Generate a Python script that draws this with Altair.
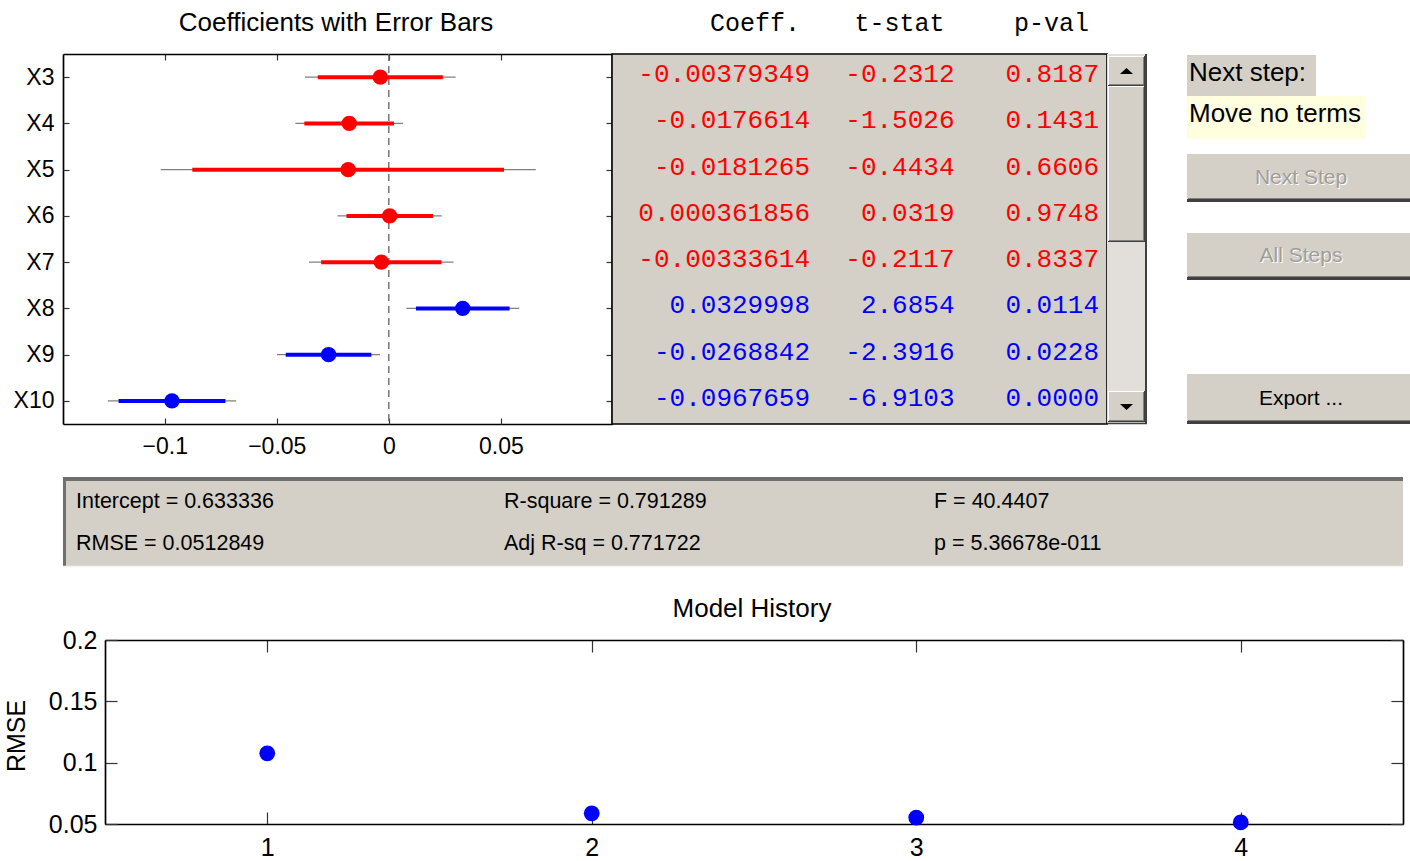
import altair as alt
import pandas as pd

# ---------------- stepwise regression state ----------------
terms = ["X3", "X4", "X5", "X6", "X7", "X8", "X9", "X10"]
coef = [-0.00379349, -0.0176614, -0.0181265, 0.000361856,
        -0.00333614, 0.0329998, -0.0268842, -0.0967659]
t_stat = [-0.2312, -1.5026, -0.4434, 0.0319, -0.2117, 2.6854, -2.3916, -6.9103]
p_val = [0.8187, 0.1431, 0.6606, 0.9748, 0.8337, 0.0114, 0.0228, 0.0000]
in_model = [False, False, False, False, False, True, True, True]

# 95% (thin) and 90% (thick) confidence intervals
ci95_lo = [-0.0374, -0.0417, -0.1018, -0.0229, -0.0356, 0.0078, -0.0499, -0.1254]
ci95_hi = [0.0298, 0.0064, 0.0656, 0.0236, 0.0289, 0.0582, -0.0039, -0.0681]
ci90_lo = [-0.0317, -0.0377, -0.0877, -0.0189, -0.0302, 0.0121, -0.0460, -0.1206]
ci90_hi = [0.0241, 0.0023, 0.0514, 0.0197, 0.0235, 0.0539, -0.0078, -0.0729]

coef_ticks = [-0.1, -0.05, 0, 0.05]
table_headers = ["Coeff.", "t-stat", "p-val"]

# model history
steps = [1, 2, 3, 4]
rmse_history = [0.1076, 0.0587, 0.0552, 0.0512849]
rmse_ticks = [0.05, 0.1, 0.15, 0.2]

summary_rows = [
    ["Intercept = 0.633336", "R-square = 0.791289", "F = 40.4407"],
    ["RMSE = 0.0512849", "Adj R-sq = 0.771722", "p = 5.36678e-011"],
]

# ---------------- layout ----------------
W, H = 1410, 861
COEF_X = [63, 612]
COEF_Y = [54, 424]
HIST_X = [105, 1403]
HIST_Y = [640, 824]
PANEL = "#d4d0c8"
SANS = "Liberation Sans, Arial, Helvetica, sans-serif"
MONO = "Liberation Mono, Courier New, monospace"

status = ["in" if m else "out" for m in in_model]
coef_df = pd.DataFrame(dict(term=terms, coef=coef, lo95=ci95_lo, hi95=ci95_hi,
                            lo90=ci90_lo, hi90=ci90_hi, status=status))

cols = ["coef", "t", "p"]
rows = []
for i, term in enumerate(terms):
    rows.append(dict(term=term, col="coef", text=f"{coef[i]:g}", status=status[i]))
    rows.append(dict(term=term, col="t", text=f"{t_stat[i]:.4f}", status=status[i]))
    rows.append(dict(term=term, col="p", text=f"{p_val[i]:.4f}", status=status[i]))
table_df = pd.DataFrame(rows)
header_df = pd.DataFrame(dict(col=cols, text=table_headers))
hist_df = pd.DataFrame(dict(step=steps, rmse=rmse_history))

ONE = alt.Data(values=[{}])

color = alt.Color("status:N", scale=alt.Scale(domain=["out", "in"], range=["#ff0000", "#0000ff"]),
                  legend=None)


def axis(orient, offset, labels=False, ticks=False, domain=False, tick_size=6, **kw):
    return alt.Axis(orient=orient, offset=offset, labels=labels, ticks=ticks,
                    tickSize=tick_size if ticks else 0, domain=domain,
                    domainColor="black", domainWidth=1.7, tickColor="#333333", tickWidth=1.2,
                    grid=False, title=None, labelFlush=False, labelOverlap=False,
                    labelColor="black", labelFont=SANS, **kw)


def box(x0, y0, x1, y1, fill, stroke=None, sw=0):
    props = dict(fill=fill)
    if stroke:
        props.update(stroke=stroke, strokeWidth=sw)
    return alt.Chart(ONE).mark_rect(**props).encode(
        x=alt.value(x0), x2=alt.value(x1), y=alt.value(y0), y2=alt.value(y1))


def hline(x0, x1, y, c, w=1):
    return alt.Chart(ONE).mark_rule(color=c, strokeWidth=w).encode(
        x=alt.value(x0), x2=alt.value(x1), y=alt.value(y))


def vline(x, y0, y1, c, w=1):
    return alt.Chart(ONE).mark_rule(color=c, strokeWidth=w).encode(
        x=alt.value(x), y=alt.value(y0), y2=alt.value(y1))


def raised(x0, y0, x1, y1):
    return [box(x0, y0, x1, y1, PANEL),
            hline(x0, x1, y0 + 0.5, "white"), vline(x0 + 0.5, y0, y1, "white"),
            hline(x0, x1, y1 - 0.5, "#404040"), vline(x1 - 0.5, y0, y1, "#404040"),
            hline(x0 + 1, x1 - 1, y1 - 1.5, "#808080"), vline(x1 - 1.5, y0 + 1, y1 - 1, "#808080")]


def label(txt, x, y, size, fill="black", font=SANS, align="left", angle=0):
    return alt.Chart(ONE).mark_text(text=txt, font=font, fontSize=size, color=fill,
                                    align=align, baseline="middle", angle=angle).encode(
        x=alt.value(x), y=alt.value(y))


def arrow(x, y, path):
    return alt.Chart(ONE).mark_point(shape=path, filled=True, color="black", size=170,
                                     opacity=1).encode(x=alt.value(x), y=alt.value(y))


layers = []

# ---------------- coefficient plot ----------------
xs = alt.Scale(domain=[-0.1454, 0.0996], range=COEF_X, nice=False, zero=False)
ys = alt.Scale(type="point", domain=terms, range=COEF_Y, padding=0.5)

layers.append(
    alt.Chart(alt.Data(values=[{"v": 0}])).mark_rule(color="#6e6e6e", strokeWidth=1.4,
                                                    strokeDash=[7, 5]).encode(
        x=alt.X("v:Q", scale=xs, axis=None),
        y=alt.value(COEF_Y[0]), y2=alt.value(COEF_Y[1])))

layers.append(
    alt.Chart(coef_df).mark_rule(color="#808080", strokeWidth=1.4).encode(
        x=alt.X("lo95:Q", scale=xs,
                axis=axis("bottom", COEF_Y[1] - H, labels=True, domain=True, values=coef_ticks,
                          format="~g", labelFontSize=23, labelPadding=11)),
        x2="hi95:Q",
        y=alt.Y("term:N", scale=ys,
                axis=axis("left", -COEF_X[0], labels=True, domain=True, labelFontSize=23,
                          labelPadding=9))))

layers.append(
    alt.Chart(coef_df).mark_rule(strokeWidth=4).encode(
        x=alt.X("lo90:Q", scale=xs, axis=axis("top", -COEF_Y[1], ticks=True, values=coef_ticks)),
        x2="hi90:Q",
        y=alt.Y("term:N", scale=ys, axis=axis("right", COEF_X[0] - W, ticks=True)),
        color=color))

layers.append(
    alt.Chart(coef_df).mark_circle(size=240, opacity=1).encode(
        x=alt.X("coef:Q", scale=xs,
                axis=axis("bottom", COEF_Y[0] - H, ticks=True, domain=True, values=coef_ticks)),
        y=alt.Y("term:N", scale=ys, axis=axis("left", -COEF_X[1], ticks=True, domain=True)),
        color=color))

layers.append(label("Coefficients with Error Bars", 336, 23, 26, align="center"))

# ---------------- coefficient table ----------------
layers.append(box(612, 54, 1107, 424, PANEL, "black", 1.6))

col_scale = alt.Scale(type="point", domain=cols, range=[810, 1099], padding=0)
layers.append(
    alt.Chart(table_df).mark_text(font=MONO, fontSize=26, align="right",
                                  baseline="middle").encode(
        x=alt.X("col:N", scale=col_scale, axis=None),
        y=alt.Y("term:N", scale=alt.Scale(type="point", domain=terms, range=[51, 421], padding=0.5),
                axis=None),
        text="text:N",
        color=color))
layers.append(
    alt.Chart(header_df).mark_text(font=MONO, fontSize=25, align="right", baseline="middle",
                                   color="black", dx=-10).encode(
        x=alt.X("col:N", scale=col_scale, axis=None),
        y=alt.value(23),
        text="text:N"))

# scroll bar
layers.append(box(1107, 54, 1147, 424, "#e2dfda"))
layers.append(vline(1146, 54, 424, "#404040", 2))
layers.append(hline(1107, 1147, 423.5, "#404040", 1.5))
layers += raised(1108, 56, 1145, 86)
layers += raised(1108, 86, 1145, 242)
layers += raised(1108, 391, 1145, 422)
layers.append(arrow(1126.5, 71, "M-1,0.45L1,0.45L0,-0.45Z"))
layers.append(arrow(1126.5, 407, "M-1,-0.45L1,-0.45L0,0.45Z"))

# ---------------- step controls ----------------
layers.append(box(1187, 55, 1316, 96, PANEL))
layers.append(label("Next step:", 1189, 73, 26))
layers.append(box(1187, 96, 1365, 139, "#ffffe0"))
layers.append(label("Move no terms", 1189, 114, 26))

for (y0, y1, txt, enabled) in [(153, 202, "Next Step", False),
                                (232, 280, "All Steps", False),
                                (373, 424, "Export ...", True)]:
    layers.append(box(1187, y0, 1410, y1, PANEL))
    layers.append(hline(1187, 1410, y0 + 0.5, "white"))
    layers.append(hline(1187, 1410, y1 - 1.5, "#404040", 3))
    layers.append(hline(1188, 1410, y1 - 3.5, "#808080", 1))
    ty = (y0 + y1) / 2
    if enabled:
        layers.append(label(txt, 1301, ty, 21, align="center"))
    else:
        layers.append(label(txt, 1302, ty + 1, 21, fill="white", align="center"))
        layers.append(label(txt, 1301, ty, 21, fill="#a09d98", align="center"))

# ---------------- summary panel ----------------
layers.append(box(63, 477, 1403, 567, PANEL))
layers.append(hline(63, 1403, 479, "#6f6f6f", 4))
layers.append(vline(64.5, 477, 567, "#6f6f6f", 3))
layers.append(hline(63, 1403, 566.5, "#f4f2ee", 1.5))
for r, yy in enumerate([502, 544]):
    for c, xx in enumerate([76, 504, 934]):
        layers.append(label(summary_rows[r][c], xx, yy, 21.5))

# ---------------- model history ----------------
hx = alt.Scale(domain=[0.5, 4.5], range=HIST_X, nice=False, zero=False)
hy = alt.Scale(domain=[0.05, 0.2], range=[HIST_Y[1], HIST_Y[0]], nice=False, zero=False)

layers.append(
    alt.Chart(hist_df).mark_point(opacity=0).encode(
        x=alt.X("step:Q", scale=hx, axis=axis("top", -HIST_Y[1], ticks=True, tick_size=12,
                                                values=steps)),
        y=alt.Y("rmse:Q", scale=hy, axis=axis("right", HIST_X[0] - W, ticks=True, tick_size=12,
                                                values=rmse_ticks))))
layers.append(
    alt.Chart(hist_df).mark_point(opacity=0).encode(
        x=alt.X("step:Q", scale=hx, axis=axis("bottom", HIST_Y[0] - H, ticks=True, tick_size=12,
                                                domain=True, values=steps)),
        y=alt.Y("rmse:Q", scale=hy, axis=axis("left", -HIST_X[1], ticks=True, tick_size=12,
                                                domain=True, values=rmse_ticks))))
layers.append(
    alt.Chart(hist_df).mark_circle(size=250, opacity=1, color="#0000ff").encode(
        x=alt.X("step:Q", scale=hx,
                axis=axis("bottom", HIST_Y[1] - H, labels=True, domain=True, values=steps,
                          format="d", labelFontSize=25, labelPadding=11)),
        y=alt.Y("rmse:Q", scale=hy,
                axis=axis("left", -HIST_X[0], labels=True, domain=True, values=rmse_ticks,
                          format="~g", labelFontSize=25, labelPadding=8))))

layers.append(label("Model History", 752, 609, 26, align="center"))
layers.append(label("RMSE", 17, 736, 25, align="center", angle=270))

chart = (
    alt.layer(*layers)
    .resolve_scale(x="independent", y="independent")
    .properties(width=W, height=H, padding=0, background="white",
                autosize=alt.AutoSizeParams(type="none"))
    .configure_view(stroke=None)
)

chart.save("out.html", embed_options={"renderer": "svg", "actions": False})
